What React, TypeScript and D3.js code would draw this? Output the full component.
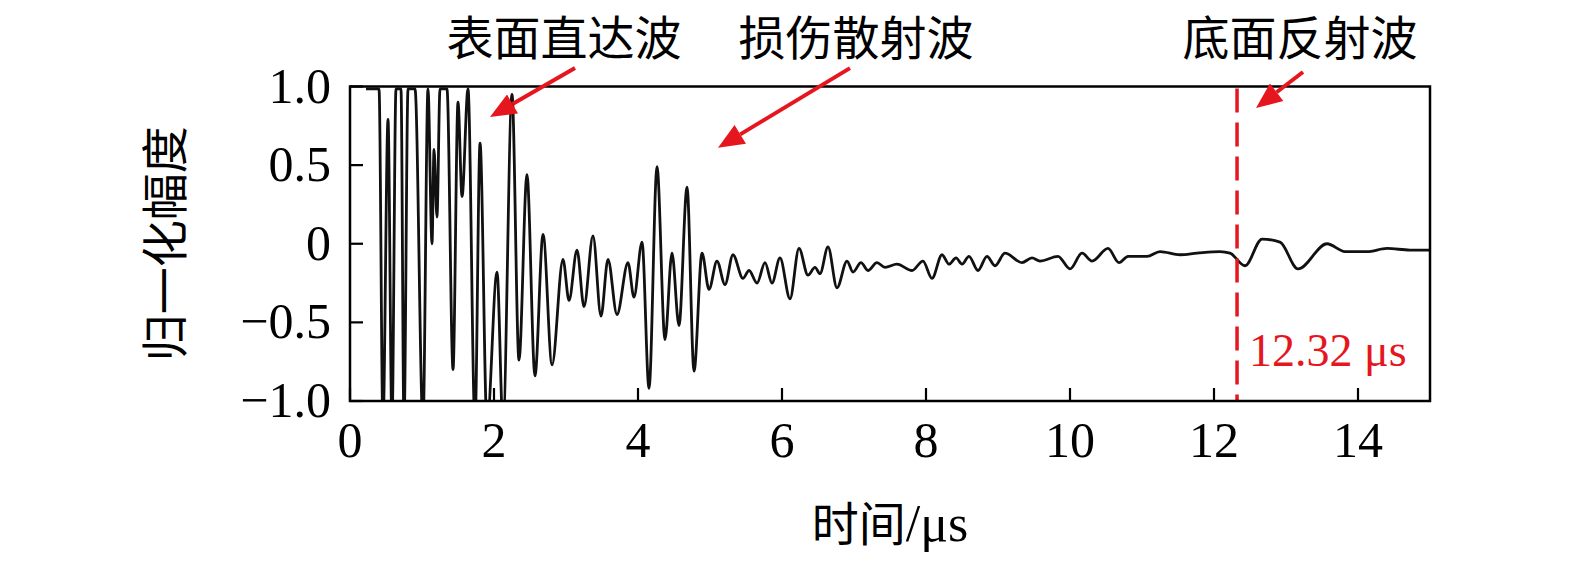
import React, { useEffect, useRef } from 'react';
import * as d3 from 'd3';

// time (μs) of each peak / trough
const times = [
  0.222, 0.403, 0.458, 0.528, 0.583, 0.639, 0.708, 0.75, 0.806, 0.903,
  1.014, 1.083, 1.139, 1.167, 1.208, 1.25, 1.347, 1.431, 1.5, 1.556,
  1.639, 1.736, 1.806, 1.903, 2.042, 2.125, 2.25, 2.347, 2.458, 2.569,
  2.681, 2.806, 2.958, 3.042, 3.153, 3.25, 3.375, 3.486, 3.583, 3.708,
  3.861, 3.944, 4.056, 4.153, 4.264, 4.375, 4.472, 4.569, 4.681, 4.778,
  4.889, 4.986, 5.097, 5.208, 5.319, 5.458, 5.542, 5.653, 5.764, 5.861,
  5.972, 6.111, 6.236, 6.361, 6.458, 6.528, 6.639, 6.764, 6.903, 6.986,
  7.097, 7.194, 7.319, 7.431, 7.597, 7.806, 7.958, 8.083, 8.222, 8.319,
  8.417, 8.5, 8.597, 8.722, 8.847, 8.958, 9.097, 9.333, 9.472, 9.583,
  9.833, 10.0, 10.167, 10.306, 10.528, 10.681, 10.806, 11.069, 11.25, 11.528,
  11.764, 12.083, 12.222, 12.431, 12.667, 12.917, 13.167, 13.569, 13.819, 14.125,
  14.403, 14.722, 15.0,
];

// normalised amplitude at those times (values beyond ±1 get clipped by the frame)
const amplitudes = [
  0.985, 0.985, -1.15, 0.79, -1.15, 0.985, 0.985, -1.15, 0.985, 0.985,
  -1.15, 0.985, 0.0, 0.6, 0.17, 0.985, 0.985, -0.8, 0.9, 0.3,
  0.985, -1.15, 0.64, -1.15, -0.18, -1.15, 0.95, -0.74, 0.44, -0.84,
  0.06, -0.77, -0.1, -0.36, -0.04, -0.4, 0.05, -0.46, -0.1, -0.45,
  -0.12, -0.34, 0.01, -0.92, 0.49, -0.61, -0.06, -0.52, 0.36, -0.81,
  -0.06, -0.29, -0.11, -0.26, -0.07, -0.22, -0.17, -0.25, -0.12, -0.25,
  -0.09, -0.35, -0.03, -0.2, -0.15, -0.19, -0.02, -0.28, -0.11, -0.18,
  -0.12, -0.17, -0.12, -0.15, -0.13, -0.17, -0.11, -0.22, -0.07, -0.13,
  -0.09, -0.13, -0.08, -0.17, -0.08, -0.14, -0.06, -0.12, -0.09, -0.11,
  -0.08, -0.16, -0.06, -0.11, -0.03, -0.12, -0.08, -0.08, -0.05, -0.07,
  -0.06, -0.05, -0.06, -0.14, 0.03, 0.01, -0.16, 0.0, -0.05, -0.05,
  -0.03, -0.04, -0.04,
];

const xTicks = [0, 2, 4, 6, 8, 10, 12, 14];
const yTicks = [1, 0.5, 0, -0.5, -1];
const yTickLabels = ['1.0', '0.5', '0', '\u22120.5', '\u22121.0'];

const echoTime = 12.32;
const echoLabel = '12.32 μs';

// annotation labels with arrow tail / tip in data units
const annoLabels = ['表面直达波', '损伤散射波', '底面反射波'];
const annoCenters = [2.972, 7.028, 13.194];
const annoTails = [[3.125, 1.117], [6.944, 1.117], [13.236, 1.092]];
const annoTips = [[1.944, 0.806], [5.111, 0.61], [12.583, 0.863]];

const RED = '#e5161d';
const CJK = '"Noto Sans CJK SC", sans-serif';
const SERIF = '"Liberation Serif", "DejaVu Serif", serif';

export default function App() {
  const svgRef = useRef<SVGSVGElement>(null);

  useEffect(() => {
    if (!svgRef.current) return;
    const svg = d3.select(svgRef.current);
    svg.selectAll('*').remove();

    const x = d3.scaleLinear().domain([0, 15]).range([350, 1430]);
    const y = d3.scaleLinear().domain([-1, 1]).range([401, 86.5]);

    svg.append('defs').append('clipPath').attr('id', 'plot-clip')
      .append('rect')
      .attr('x', x(0)).attr('y', y(1))
      .attr('width', x(15) - x(0)).attr('height', y(-1) - y(1));

    // waveform
    const pts: [number, number][] = times.map((t, i) => [t, amplitudes[i]]);
    const line = d3.line<[number, number]>()
      .x(d => x(d[0]))
      .y(d => y(d[1]))
      .curve(d3.curveMonotoneX);

    svg.append('path')
      .attr('clip-path', 'url(#plot-clip)')
      .attr('d', line(pts))
      .attr('fill', 'none')
      .attr('stroke', '#111')
      .attr('stroke-width', 2.8)
      .attr('stroke-linejoin', 'round');

    // echo marker
    svg.append('line')
      .attr('x1', x(echoTime)).attr('x2', x(echoTime))
      .attr('y1', y(1) + 2).attr('y2', y(-1))
      .attr('stroke', RED)
      .attr('stroke-width', 3.5)
      .attr('stroke-dasharray', '24 10');

    svg.append('text')
      .attr('x', x(echoTime) + 12)
      .attr('y', 366)
      .attr('font-family', SERIF)
      .attr('font-size', 46)
      .attr('fill', RED)
      .text(echoLabel);

    // frame
    svg.append('rect')
      .attr('x', x(0)).attr('y', y(1))
      .attr('width', x(15) - x(0)).attr('height', y(-1) - y(1))
      .attr('fill', 'none')
      .attr('stroke', '#000')
      .attr('stroke-width', 2.5);

    // x ticks (inward)
    const xa = svg.append('g');
    xTicks.forEach(t => {
      xa.append('line')
        .attr('x1', x(t)).attr('x2', x(t))
        .attr('y1', y(-1)).attr('y2', y(-1) - 13)
        .attr('stroke', '#000').attr('stroke-width', 2.2);
      xa.append('text')
        .attr('x', x(t)).attr('y', 457)
        .attr('text-anchor', 'middle')
        .attr('font-family', SERIF)
        .attr('font-size', 50)
        .text(String(t));
    });

    // y ticks (inward)
    const ya = svg.append('g');
    yTicks.forEach((v, i) => {
      ya.append('line')
        .attr('x1', x(0)).attr('x2', x(0) + 13)
        .attr('y1', y(v)).attr('y2', y(v))
        .attr('stroke', '#000').attr('stroke-width', 2.2);
      ya.append('text')
        .attr('x', 331).attr('y', y(v) + 16)
        .attr('text-anchor', 'end')
        .attr('font-family', SERIF)
        .attr('font-size', 50)
        .text(yTickLabels[i]);
    });

    // axis titles
    svg.append('text')
      .attr('transform', `translate(182, ${y(0)}) rotate(-90)`)
      .attr('text-anchor', 'middle')
      .attr('font-family', CJK)
      .attr('font-size', 47)
      .text('归一化幅度');

    const xt = svg.append('text')
      .attr('x', 890).attr('y', 541)
      .attr('text-anchor', 'middle');
    xt.append('tspan').attr('font-family', CJK).attr('font-size', 47).text('时间');
    xt.append('tspan').attr('font-family', SERIF).attr('font-size', 52).text('/μs');

    // annotations
    annoLabels.forEach((lab, i) => {
      svg.append('text')
        .attr('x', x(annoCenters[i])).attr('y', 55)
        .attr('text-anchor', 'middle')
        .attr('font-family', CJK)
        .attr('font-size', 47)
        .text(lab);

      const [tx, ty] = [x(annoTails[i][0]), y(annoTails[i][1])];
      const [hx, hy] = [x(annoTips[i][0]), y(annoTips[i][1])];
      const ang = Math.atan2(hy - ty, hx - tx);
      const headLen = 26, headW = 11;
      const bx = hx - headLen * Math.cos(ang), by = hy - headLen * Math.sin(ang);
      svg.append('line')
        .attr('x1', tx).attr('y1', ty).attr('x2', bx).attr('y2', by)
        .attr('stroke', RED).attr('stroke-width', 4);
      const nx = -Math.sin(ang), ny = Math.cos(ang);
      svg.append('polygon')
        .attr('points', [
          [hx, hy],
          [bx + nx * headW, by + ny * headW],
          [bx - nx * headW, by - ny * headW],
        ].map(p => p.join(',')).join(' '))
        .attr('fill', RED);
    });
  }, []);

  return (
    <div style={{ width: 1575, height: 561, overflow: 'hidden' }}>
      <style>{'html,body{margin:0;padding:0;overflow:hidden;background:#fff}'}</style>
      <svg ref={svgRef} width={1575} height={561} style={{ display: 'block' }} />
    </div>
  );
}
